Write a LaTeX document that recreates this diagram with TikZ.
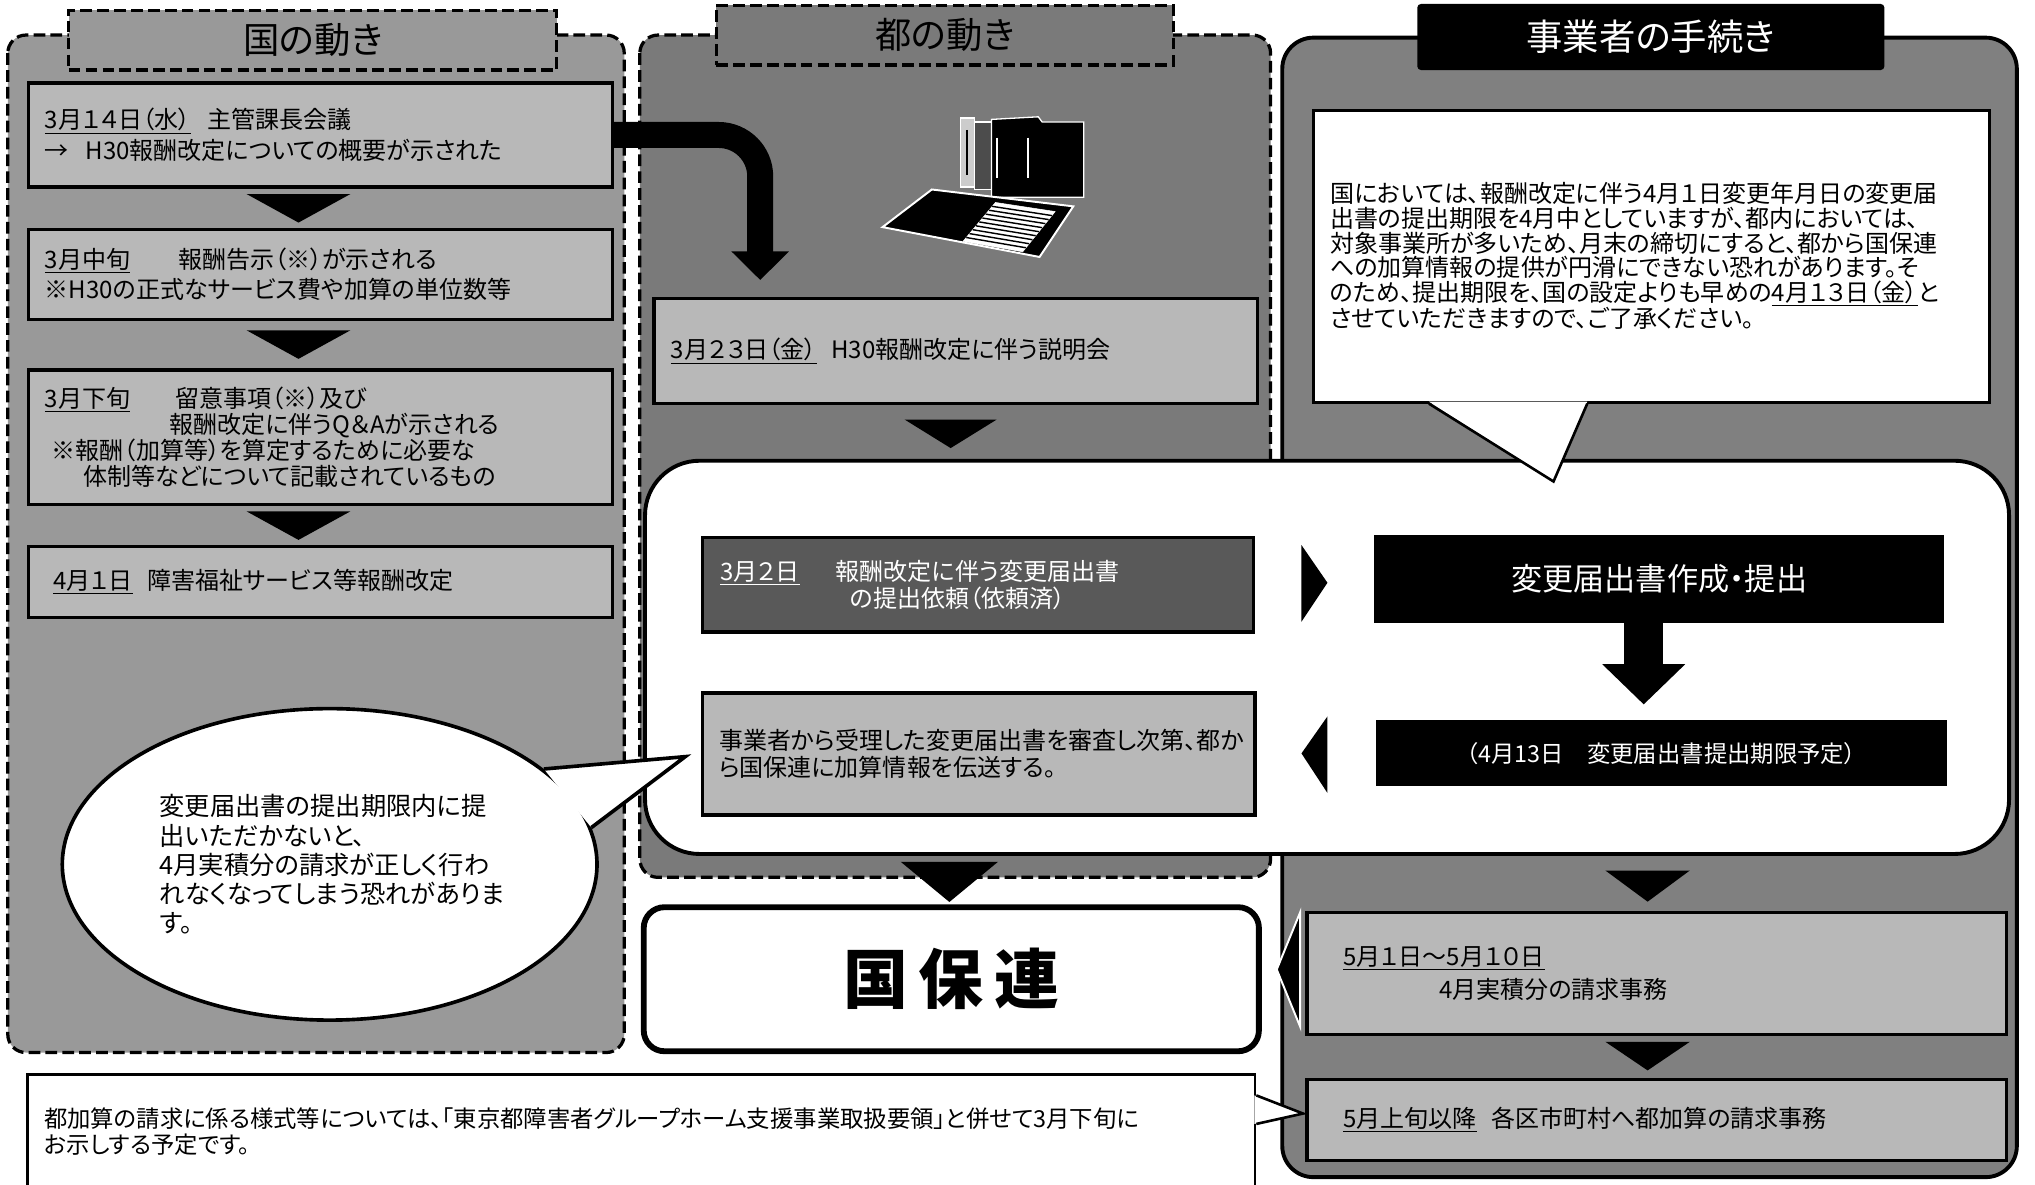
\documentclass[tikz,border=0pt]{standalone}
\usepackage{fontspec}
\setmainfont{Noto Sans CJK JP}[RawFeature={+palt}]
\usepackage{tikz}
\usetikzlibrary{shapes.geometric, arrows.meta, positioning, calc}

\tikzstyle{dashpanel} = [draw=black, line width=2.5pt, dash pattern=on 9pt off 4pt, rounded corners=14pt]
\tikzstyle{dashtab} = [rectangle, draw=black, line width=2.5pt, dash pattern=on 9pt off 4pt, minimum height=46pt, font=\fontsize{28pt}{30pt}\selectfont]
\tikzstyle{kunibox} = [rectangle, draw=black, line width=2.5pt, fill=black!28, minimum width=450pt, text width=425pt, align=left, font=\fontsize{18.5pt}{20pt}\selectfont]
\tikzstyle{tobox} = [rectangle, draw=black, line width=2.5pt, fill=black!28, align=left, font=\fontsize{18.5pt}{21pt}\selectfont]
\tikzstyle{jigyobox} = [rectangle, draw=black, line width=2.5pt, fill=black!28, minimum width=539pt, text width=483pt, align=left, font=\fontsize{18.5pt}{22pt}\selectfont]
\tikzstyle{blackbox} = [rectangle, fill=black, text=white, align=center]
\tikzstyle{tri} = [fill=black]
\tikzstyle{bendarrow} = [-{Triangle[width=43pt, length=22pt]}, line width=20pt, rounded corners=32pt, shorten >=13pt]
\tikzstyle{ptr} = [draw=black, line width=2.5pt, line join=miter]

\begin{document}
\begin{tikzpicture}[x=1pt, y=-1pt]
    \useasboundingbox (0,0) rectangle (1568,913);
    \fill[white] (0,0) rectangle (1568,913);

    % === COLUMNS ===
    \filldraw[dashpanel, fill=black!40] (6,27) rectangle (481,811);
    \filldraw[dashpanel, fill=black!52] (493,27) rectangle (979,676);
    \filldraw[draw=black, line width=3pt, rounded corners=24pt, fill=black!50] (988,29) rectangle (1554,907);

    \node[dashtab, fill=black!40, minimum width=376pt] (kunitab) at (241,31) {国の動き};
    \node[dashtab, fill=black!52, minimum width=352pt] (totab) at (728,27) {都の動き};
    \node[blackbox, rounded corners=3pt, minimum width=360pt, minimum height=51pt, font=\fontsize{28pt}{30pt}\selectfont] (jigyotab) at (1272,28.5) {事業者の手続き};

    % === 国の動き: four steps ===
    \node[kunibox, minimum height=80pt] (kuni1) at (247,104) {\underline{3月１４日（水）}\hspace{0.7em}主管課長会議\\[4pt]→\hspace{0.7em}H30報酬改定についての概要が示された};
    \node[kunibox, minimum height=69pt, below=30.5pt of kuni1] (kuni2) {\underline{3月中旬}\hspace{2em}報酬告示（※）が示される\\[3pt]※H30の正式なサービス費や加算の単位数等};
    \node[kunibox, minimum height=104pt, below=36.5pt of kuni2] (kuni3) {\underline{3月下旬}\hspace{1.9em}留意事項（※）及び\\\hspace*{5.2em}報酬改定に伴うQ＆Aが示される\\\hspace*{0.3em}※報酬（加算等）を算定するために必要な\\\hspace*{1.6em}体制等などについて記載されているもの};
    \node[kunibox, minimum height=55pt, below=29.5pt of kuni3] (kuni4) {\hspace*{0.35em}\underline{4月１日}\hspace{0.6em}障害福祉サービス等報酬改定};

    % steps are joined by solid triangles
    \fill[tri] ($(kuni1.south)!0.5!(kuni2.north)+(-57,-11)$) -- ++(80,0) -- ++(-40,22) -- cycle;
    \fill[tri] ($(kuni2.south)!0.5!(kuni3.north)+(-57,-11)$) -- ++(80,0) -- ++(-40,22) -- cycle;
    \fill[tri] ($(kuni3.south)!0.5!(kuni4.north)+(-57,-11)$) -- ++(80,0) -- ++(-40,22) -- cycle;

    % === 都の動き ===
    \node[tobox, minimum width=465pt, minimum height=81pt, text width=439pt] (setsumei) at (736.5,270.5) {\underline{3月２３日（金）}\hspace{0.6em}H30報酬改定に伴う説明会};
    \fill[tri] ([xshift=-39.5pt,yshift=-11pt]setsumei.south) -- ++(71,0) -- ++(-35.5,22) -- cycle;

    % binders
    \filldraw[fill=black!20, draw=white, line width=1pt] (740,91) rectangle (751,144);
    \draw[black, line width=1.5pt] (745,100) -- (745,135);
    \filldraw[fill=black!70, draw=white, line width=1pt] (751,94) rectangle (765,146);
    \filldraw[fill=black, draw=white, line width=1pt] (764,92) -- (800,90) -- (803,94) -- (835,94) -- (835,152) -- (764,152) -- cycle;
    \draw[white, line width=1.8pt] (768,106) -- (768,137) (792,106) -- (792,137);
    \filldraw[fill=black, draw=white, line width=1.5pt] (680,175) -- (718,146) -- (827,159) -- (801,198) -- cycle;
    \filldraw[fill=white, draw=white] (742,186) -- (767,156) -- (813,163) -- (788,194) -- cycle;
    \foreach \t in {0.1,0.2,...,0.95}
        \draw[black, line width=1.1pt] ($(767,156)!\t!(742,186)$) -- ($(813,163)!\t!(788,194)$);

    % 国 -> 都
    \draw[bendarrow] (kuni1.east) -| ([xshift=83pt]setsumei.north west);

    % === 事業者の手続き: notice ===
    \node[draw=black, line width=2pt, fill=white, minimum width=521pt, minimum height=225pt, text width=495pt, align=left, font=\fontsize{18.5pt}{19pt}\selectfont] (fukidashi) at (1272.5,197.5) {国においては、報酬改定に伴う4月１日変更年月日の変更届\\出書の提出期限を4月中としていますが、都内においては、\\対象事業所が多いため、月末の締切にすると、都から国保連\\への加算情報の提供が円滑にできない恐れがあります。そ\\のため、提出期限を、国の設定よりも早めの\underline{4月１３日（金）}と\\させていただきますので、ご了承ください。};

    % === shared block ===
    \node[draw=black, line width=3pt, fill=white, rounded corners=42pt, minimum width=1051pt, minimum height=303pt] (tsuchi) at (1022.5,506.5) {};

    \fill[white] ([xshift=90pt,yshift=1.5pt]fukidashi.south west) -- ([xshift=186pt,yshift=-60pt]fukidashi.south west) -- ([xshift=212pt,yshift=1.5pt]fukidashi.south west) -- cycle;
    \draw[ptr, line width=2pt] ([xshift=90pt]fukidashi.south west) -- ([xshift=186pt,yshift=-60pt]fukidashi.south west) -- ([xshift=212pt]fukidashi.south west);

    \node[tobox, fill=black!65, text=white, minimum width=425pt, minimum height=73pt, text width=397pt] (irai) at (753.5,450.5) {\underline{3月２日}\hspace{1.5em}報酬改定に伴う変更届出書\\\hspace*{5.4em}の提出依頼（依頼済）};
    \node[tobox, minimum width=426pt, minimum height=94pt, text width=400pt] (denso) at (754,581) {事業者から受理した変更届出書を審査し次第、都か\\ら国保連に加算情報を伝送する。};

    \node[blackbox, minimum width=439pt, minimum height=68pt, font=\fontsize{24pt}{26pt}\selectfont] (teishutsu) at (1278.5,446) {変更届出書作成・提出};
    \node[blackbox, minimum width=440pt, minimum height=51pt, font=\fontsize{18pt}{20pt}\selectfont] (kigen) at (1280,580.5) {（4月13日\hspace{1em}変更届出書提出期限予定）};

    \fill[tri] ([xshift=-56pt,yshift=26pt]teishutsu.west) -- ([xshift=-36pt,yshift=-3pt]teishutsu.west) -- ([xshift=-56pt,yshift=-33pt]teishutsu.west) -- cycle;
    \draw[-{Triangle[width=62pt, length=31pt]}, line width=30pt, shorten >=12pt] ([xshift=-12pt]teishutsu.south) -- ([xshift=-12pt]teishutsu.south |- kigen.north);
    \fill[tri] ([xshift=-37pt,yshift=28.5pt]kigen.west) -- ([xshift=-57pt]kigen.west) -- ([xshift=-37pt,yshift=-30.5pt]kigen.west) -- cycle;

    % === warning bubble ===
    \node[ellipse, draw=black, line width=2.8pt, fill=white, minimum width=412pt, minimum height=240pt, inner sep=0pt, text width=262pt, align=left, font=\fontsize{19.5pt}{22.5pt}\selectfont] (keikoku) at (254,666) {変更届出書の提出期限内に提\\出いただかないと、\\4月実積分の請求が正しく行わ\\れなくなってしまう恐れがありま\\す。};
    \fill[white] (keikoku.24) -- (528,583) -- (keikoku.8) -- cycle;
    \draw[ptr, line width=2.8pt] (keikoku.24) -- (528,583) -- (keikoku.8);

    % === 国保連 and billing ===
    \fill[tri] ([xshift=-39pt,yshift=35pt]733,699) -- ++(75,0) -- ++(-37.5,31) -- cycle;
    \node[draw=black, line width=4.5pt, fill=white, rounded corners=16pt, minimum width=474pt, minimum height=111pt, font=\fontsize{50pt}{50pt}\selectfont\bfseries] (kokuhoren) at (733,754.5) {国\hspace{8pt}保\hspace{8pt}連};

    \node[jigyobox, minimum height=94pt] (seikyu1) at (1276.5,750) {\underline{5月１日～5月１０日}\\[3pt]\hspace*{4em}4月実積分の請求事務};
    \node[jigyobox, minimum height=62pt, below=32.5pt of seikyu1] (seikyu2) {\underline{5月上旬以降}\hspace{0.6em}各区市町村へ都加算の請求事務};

    \fill[tri] ([xshift=-39.5pt,yshift=31pt]seikyu1.north) -- ++(65,0) -- ++(-32.5,24) -- cycle;
    \fill[tri] ([xshift=-39.5pt,yshift=28pt]seikyu2.north) -- ++(65,0) -- ++(-32.5,22) -- cycle;
    \filldraw[fill=black, draw=white, line width=1.5pt] ([xshift=-4pt,yshift=47pt]seikyu1.west) -- ([xshift=-22pt,yshift=3pt]seikyu1.west) -- ([xshift=-4pt,yshift=-41pt]seikyu1.west) -- cycle;

    % === note at the bottom ===
    \node[draw=black, line width=2pt, fill=white, minimum width=946pt, minimum height=88pt, text width=920pt, align=left, font=\fontsize{18pt}{20pt}\selectfont] (chui) at (494,872) {都加算の請求に係る様式等については、「東京都障害者グループホーム支援事業取扱要領」と併せて3月下旬に\\お示しする予定です。};
    \fill[white] ([xshift=-1.5pt,yshift=-17pt]chui.north east) -- ([xshift=36pt,yshift=-31pt]chui.north east) -- ([xshift=-1.5pt,yshift=-39pt]chui.north east) -- cycle;
    \draw[ptr, line width=2pt] ([yshift=-17pt]chui.north east) -- ([xshift=36pt,yshift=-31pt]chui.north east) -- ([yshift=-39pt]chui.north east);
\end{tikzpicture}
\end{document}
